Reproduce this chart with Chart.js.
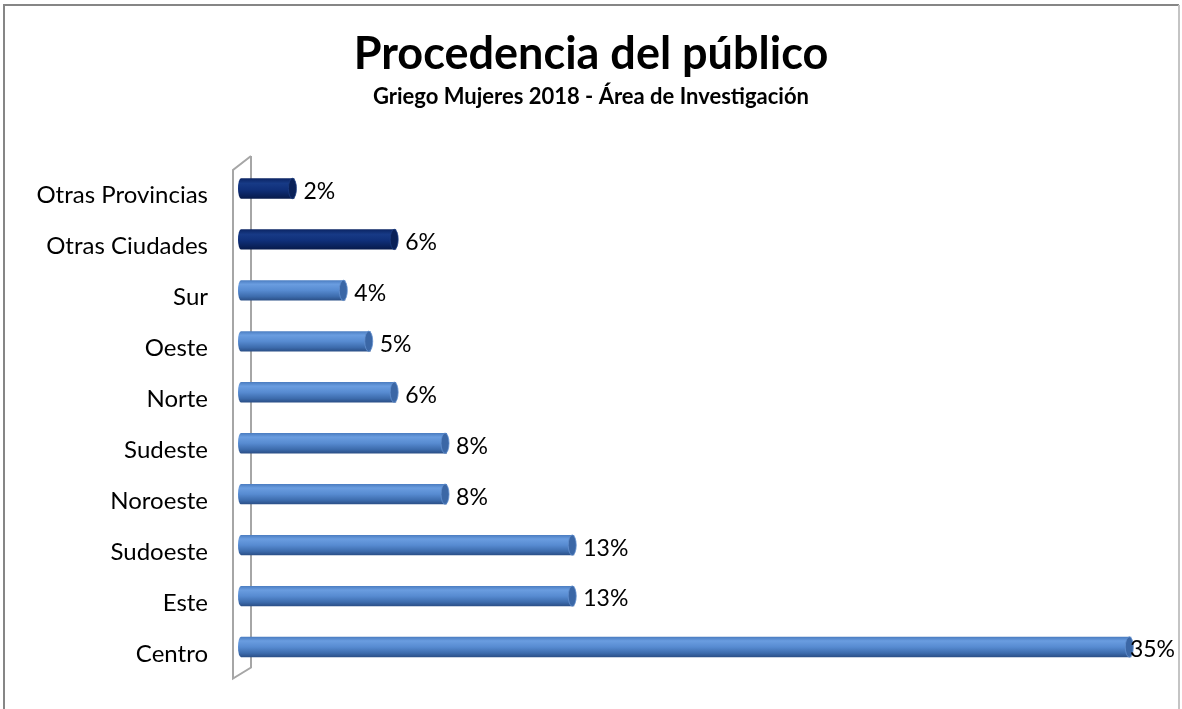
<!DOCTYPE html>
<html>
<head>
<meta charset="utf-8">
<script src="https://cdn.jsdelivr.net/npm/chart.js@4"></script>
<style>
  html, body { margin: 0; padding: 0; background: #fff; }
  #wrap { width: 1182px; height: 709px; position: relative; }
</style>
</head>
<body>
<div id="wrap"><canvas id="c" width="1182" height="709"></canvas></div>
<script>
const categories = ["Otras Provincias", "Otras Ciudades", "Sur", "Oeste", "Norte", "Sudeste", "Noroeste", "Sudoeste", "Este", "Centro"];
const values = [2.1, 6.1, 4.1, 5.1, 6.1, 8.1, 8.1, 13.1, 13.1, 35];
const darkCategories = ["Otras Provincias", "Otras Ciudades"];
const titleText = "Procedencia del público";
const subtitleText = "Griego Mujeres 2018 - Área de Investigación";
const axisMax = 36.6;

const FONT = "Lato, 'Liberation Sans', sans-serif";
const CAT_PCT = 0.4;

function isDark(i) { return darkCategories.includes(categories[i]); }

function barGradient(context) {
  const chart = context.chart;
  const s = chart.scales.y;
  const i = context.dataIndex;
  if (!s || s.bottom === undefined) return isDark(i) ? '#0f2a6b' : '#5589cc';
  const center = s.getPixelForValue(i);
  const h = (s.bottom - s.top) / categories.length * CAT_PCT;
  const g = chart.ctx.createLinearGradient(0, center - h / 2, 0, center + h / 2);
  if (isDark(i)) {
    g.addColorStop(0, '#0b2463');
    g.addColorStop(0.25, '#173a86');
    g.addColorStop(0.55, '#10307a');
    g.addColorStop(1, '#071a4a');
  } else {
    g.addColorStop(0, '#4a7cc0');
    g.addColorStop(0.2, '#6a9de0');
    g.addColorStop(0.5, '#578bd1');
    g.addColorStop(0.8, '#3d6cad');
    g.addColorStop(1, '#2a4e86');
  }
  return g;
}

const framePlugin = {
  id: 'frame',
  beforeDraw(chart) {
    const c = chart.ctx;
    c.save();
    c.strokeStyle = '#868686';
    c.lineWidth = 2;
    c.beginPath();
    c.moveTo(4, 730); c.lineTo(4, 5); c.lineTo(1179, 5);
    c.stroke();
    c.strokeStyle = '#c4c4c4';
    c.beginPath();
    c.moveTo(1179, 5); c.lineTo(1179, 730);
    c.stroke();
    c.restore();
  },
  beforeDatasetsDraw(chart) {
    const a = chart.chartArea;
    const c = chart.ctx;
    const fx = a.left - 8, bx = a.left + 10;
    c.save();
    c.strokeStyle = '#a6a6a6';
    c.lineWidth = 2;
    c.beginPath();
    c.moveTo(bx, a.top - 7);
    c.lineTo(fx, a.top + 7);
    c.lineTo(fx, a.bottom + 6);
    c.lineTo(bx, a.bottom - 5);
    c.lineTo(bx, a.top - 7);
    c.stroke();
    c.restore();
  },
  afterDatasetsDraw(chart) {
    const c = chart.ctx;
    const meta = chart.getDatasetMeta(0);
    c.save();
    meta.data.forEach((el, i) => {
      const p = el.getProps(['x', 'y', 'base', 'height'], true);
      const ry = p.height / 2;
      // left rounded end
      c.beginPath();
      c.ellipse(p.base, p.y, 3, ry, 0, Math.PI / 2, Math.PI * 1.5);
      c.fillStyle = el.options.backgroundColor;
      c.fill();
      // right cap
      c.beginPath();
      c.ellipse(p.x - 2, p.y, 4, ry, 0, 0, Math.PI * 2);
      c.fillStyle = isDark(i) ? '#0a2158' : '#3b67a6';
      c.fill();
      c.strokeStyle = isDark(i) ? '#1c3c82' : '#6390cf';
      c.lineWidth = 0.8;
      c.stroke();
      // value label
      c.font = '23px ' + FONT;
      c.fillStyle = '#000';
      c.textBaseline = 'middle';
      c.textAlign = 'left';
      const txt = Math.round(values[i]) + '%';
      const tw = c.measureText(txt).width;
      const lx = Math.min(p.x + 9, chart.width - tw - 7);
      c.fillText(txt, lx, p.y + 3);
    });
    c.restore();
  }
};

new Chart(document.getElementById('c'), {
  type: 'bar',
  data: {
    labels: categories,
    datasets: [{
      data: values,
      backgroundColor: barGradient,
      borderWidth: 0,
      categoryPercentage: CAT_PCT,
      barPercentage: 1
    }]
  },
  options: {
    indexAxis: 'y',
    responsive: false,
    animation: false,
    events: [],
    layout: { padding: { top: 0, bottom: 36.5, left: 10, right: 10 } },
    plugins: {
      legend: { display: false },
      tooltip: { enabled: false },
      title: {
        display: true,
        text: titleText,
        color: '#000',
        font: { family: FONT, size: 45, weight: 'bold', lineHeight: 1.2 },
        padding: { top: 27.5, bottom: 2.3 }
      },
      subtitle: {
        display: true,
        text: subtitleText,
        color: '#000',
        font: { family: FONT, size: 22, weight: 'bold', lineHeight: 1.2 },
        padding: { top: 0, bottom: 52.8 }
      }
    },
    scales: {
      x: {
        display: false,
        min: 0,
        max: axisMax
      },
      y: {
        grid: { display: false, drawTicks: false },
        border: { display: false },
        ticks: {
          color: '#000',
          padding: 33,
          labelOffset: 7,
          font: { family: FONT, size: 24 }
        },
        afterFit(scale) {
          scale.width = 231;
          scale.paddingTop = 0;
          scale.paddingBottom = 0;
        }
      }
    }
  },
  plugins: [framePlugin]
});
</script>
</body>
</html>
